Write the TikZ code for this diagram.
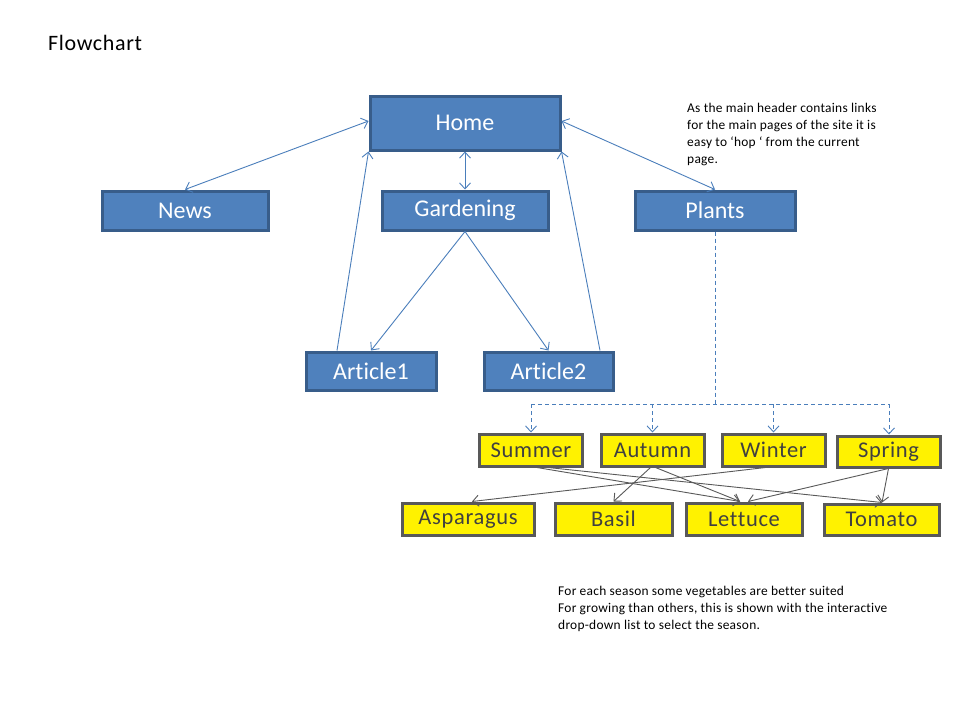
\documentclass[tikz,border=0pt]{standalone}
\usepackage{fontspec}
\setmainfont{Carlito}[Ligatures=NoCommon]
\usetikzlibrary{arrows.meta}
\definecolor{bfill}{HTML}{4F81BD}
\definecolor{bline}{HTML}{385D8A}
\definecolor{conn}{HTML}{4A7EBB}
\definecolor{gline}{HTML}{595959}
\definecolor{gtext}{HTML}{404040}
\tikzset{
  vtip/.tip={Straight Barb[length=6pt,width=11pt]},
  bluebox/.style={draw=bline, fill=bfill, line width=3pt, text=white, inner sep=0pt,
    font=\fontsize{24}{28}\selectfont},
  yelbox/.style={draw=gline, fill=yellow, line width=3pt, text=gtext, inner sep=0pt,
    font=\fontsize{22.5}{26}\selectfont\addfontfeatures{LetterSpace=3}},
  bconn/.style={draw=conn, line width=0.9pt},
  dconn/.style={draw=conn, line width=0.9pt, dash pattern=on 4pt off 3pt},
  gconn/.style={draw=gline, line width=0.9pt},
  note/.style={inner sep=0pt, align=left, text=black,
    font=\fontsize{13.4}{17.3}\selectfont\addfontfeatures{LetterSpace=2}},
}
\begin{document}
\begin{tikzpicture}[x=1pt,y=-1pt]
\fill[white] (0,0) rectangle (960,720);
\useasboundingbox (0,0) rectangle (960,720);

\node[anchor=base west, inner sep=0pt, font=\fontsize{22}{26}\selectfont\addfontfeatures{LetterSpace=3}] (title) at (48,50.7) {Flowchart};

\node[bluebox, minimum width=190pt, minimum height=54pt] (home) at (465,123) {Home};
\node[bluebox, minimum width=166pt, minimum height=39pt] (news) at (185,210.5) {News};
\node[bluebox, minimum width=166pt, minimum height=39pt] (gard) at (465,210.5) {Gardening};
\node[bluebox, minimum width=160pt, minimum height=39pt] (plants) at (715,210.5) {Plants};
\node[bluebox, minimum width=130pt, minimum height=38pt] (art1) at (371,371) {Article1};
\node[bluebox, minimum width=129pt, minimum height=38pt] (art2) at (548.5,371) {Article2};

\node[yelbox, minimum width=103pt, minimum height=32pt] (summer) at (531,450) {Summer};
\node[yelbox, minimum width=103pt, minimum height=32pt] (autumn) at (652.5,450) {Autumn};
\node[yelbox, minimum width=103pt, minimum height=32pt] (winter) at (773.5,450) {Winter};
\node[yelbox, minimum width=103pt, minimum height=31pt] (spring) at (888.5,451.5) {Spring};
\node[yelbox, minimum width=132pt, minimum height=32pt] (asp) at (468,519) {Asparagus};
\node[yelbox, minimum width=117pt, minimum height=32pt] (basil) at (613.5,519) {Basil};
\node[yelbox, minimum width=116pt, minimum height=32pt] (lett) at (744,519) {Lettuce};
\node[yelbox, minimum width=115pt, minimum height=31pt] (tom) at (881.5,519.5) {Tomato};

\node[note, anchor=north west] (note1) at (687,102.5) {As the main header contains links\\for the main pages of the site it is\\easy to ‘hop ‘ from the current\\page.};
\node[note, anchor=north west] (note2) at (558,585.5) {For each season some vegetables are better suited\\For growing than others, this is shown with the interactive\\drop-down list to select the season.};

% blue connectors
\draw[bconn, vtip-vtip] (news.north) -- ([yshift=2pt]home.west);
\draw[bconn, vtip-vtip] (home.south) -- (gard.north);
\draw[bconn, vtip-vtip] ([yshift=2pt]home.east) -- (plants.north);
\draw[bconn, -vtip] (gard.south) -- (art1.north);
\draw[bconn, -vtip] (gard.south) -- (art2.north);
\draw[bconn, -vtip] ([xshift=-34pt]art1.north) -- (home.south west);
\draw[bconn, -vtip] ([xshift=51.5pt]art2.north) -- (home.south east);

% dashed tree
\coordinate (bus) at (0,404);
\draw[dconn] (plants.south) -- (plants.south |- bus);
\draw[dconn] (summer.north |- bus) -- ([xshift=0.5pt]spring.north |- bus);
\draw[dconn, -vtip] (summer.north |- bus) -- (summer.north);
\draw[dconn, -vtip] (autumn.north |- bus) -- (autumn.north);
\draw[dconn, -vtip] (winter.north |- bus) -- (winter.north);
\draw[dconn, -vtip] ([xshift=0.5pt]spring.north |- bus) -- ([xshift=0.5pt]spring.north);

% gray connectors
\draw[gconn, -vtip] ([xshift=6pt]summer.south) -- ([xshift=-4pt]lett.north);
\draw[gconn, -vtip] ([xshift=17pt]summer.south) -- ([xshift=0.5pt]tom.north);
\draw[gconn, -vtip] ([xshift=-2pt]autumn.south) -- (basil.north);
\draw[gconn, -vtip] ([xshift=3pt]autumn.south) -- ([xshift=-4pt]lett.north);
\draw[gconn, -vtip] ([xshift=-8pt]winter.south) -- ([xshift=4pt]asp.north);
\draw[gconn, -vtip] (spring.south) -- ([xshift=4pt]lett.north);
\draw[gconn, -vtip] (spring.south) -- ([xshift=0.5pt]tom.north);
\end{tikzpicture}
\end{document}
